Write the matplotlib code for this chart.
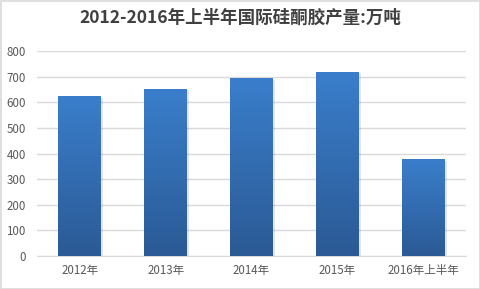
import matplotlib
matplotlib.use("Agg")
import matplotlib.pyplot as plt
import numpy as np
from matplotlib.colors import LinearSegmentedColormap
from matplotlib.patches import Rectangle

plt.rcParams['font.family'] = ['Noto Sans CJK SC', 'DejaVu Sans']

categories = ["2012年", "2013年", "2014年", "2015年", "2016年上半年"]
values = [622, 652, 692, 719, 376]
title = "2012-2016年上半年国际硅酮胶产量:万吨"
yticks = [0, 100, 200, 300, 400, 500, 600, 700, 800]

fig = plt.figure(figsize=(4.81, 2.89), dpi=100)
ax = fig.add_axes([37/481, 33/289, 429/481, 204.7/289])

x = np.arange(len(categories))
width = 0.5
cmap = LinearSegmentedColormap.from_list("g", ["#2b5a95", "#3a7ecb"])
grad = np.linspace(0, 1, 256).reshape(-1, 1)

bars = ax.bar(x, values, width=width, color="none", zorder=3)
for b in bars:
    x0, y0, w, h = b.get_x(), b.get_y(), b.get_width(), b.get_height()
    sh = Rectangle((x0 + 0.012, y0), w + 0.012, h - 4, facecolor="#000000", alpha=0.10,
                   edgecolor="none", zorder=2)
    ax.add_patch(sh)
    ax.imshow(grad, extent=[x0, x0 + w, y0, y0 + h], origin="lower", cmap=cmap,
              aspect="auto", zorder=3, interpolation="bilinear")

ax.set_xlim(-0.5, len(categories) - 0.5)
ax.set_ylim(0, 800)
ax.set_yticks(yticks)
ax.set_xticks(x)
ax.set_xticklabels(categories)
ax.yaxis.grid(True, color="#d9d9d9", linewidth=1.0, zorder=0)
ax.set_axisbelow(True)
for s in ["top", "right", "left"]:
    ax.spines[s].set_visible(False)
ax.spines["bottom"].set_color("#d9d9d9")
ax.tick_params(axis="both", length=0, colors="#595959", labelsize=8.3)
ax.tick_params(axis="x", pad=6)
ax.tick_params(axis="y", pad=8)

fig.text(0.5, 1 - 18/289, title, ha="center", va="center", fontsize=12.6,
         fontweight="bold", color="#404040")

border = Rectangle((0.5/481, 0.5/289), 1 - 1/481, 1 - 1/289, transform=fig.transFigure,
                   facecolor="none", edgecolor="#d9d9d9", linewidth=1.2)
fig.patches.append(border)

fig.savefig("out.png", dpi=100)
